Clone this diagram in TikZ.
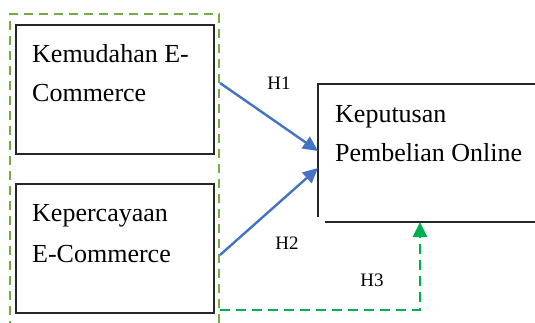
\documentclass[tikz,border=0pt]{standalone}
\usepackage{fontspec}
\setmainfont{Liberation Serif}
\usetikzlibrary{arrows.meta}
\definecolor{grpgreen}{HTML}{70AD47}
\definecolor{hgreen}{HTML}{00B050}
\definecolor{hblue}{HTML}{4472C4}
\tikzset{
  varbox/.style={draw=black!85, line width=1.6pt, minimum width=198pt, minimum height=129pt, anchor=north west, inner sep=0pt},
  boxtxt/.style={anchor=base west, inner sep=0pt, font=\fontsize{26}{39}\selectfont},
  hlabel/.style={inner sep=0pt, font=\fontsize{19}{22}\selectfont},
  hyparrow/.style={hblue, line width=2.4pt, -{Triangle[length=15pt, width=14pt]}},
  grouping/.style={grpgreen, line width=2.2pt, dash pattern=on 9pt off 6pt},
  indirect/.style={hgreen, line width=2.6pt, dash pattern=on 10pt off 6pt, -{Triangle[length=15pt, width=14pt]}}
}
\begin{document}
\begin{tikzpicture}[x=1pt, y=-1pt]
\useasboundingbox (0,0) rectangle (535,323);
% independent variables
\node[varbox] (kem) at (15,24) {};
\node[boxtxt] (kem1) at (32,63) {Kemudahan E-};
\node[boxtxt] (kem2) at (32,102) {Commerce};
\node[varbox] (kep) at (15,183) {};
\node[boxtxt] (kep1) at (32,222) {Kepercayaan};
\node[boxtxt] (kep2) at (32,262) {E-Commerce};
% grouping frame around both variables
\draw[grouping] (10,330) -- (10,14) -- (219,14) -- (219,330);
% dependent variable (box open on the right)
\node[inner sep=0pt, minimum width=230pt, minimum height=138pt, anchor=north west] (kpo) at (318,84) {};
\draw[black!85, line width=1.6pt] (545,84) -- (318,84) -- (318,217);
\draw[black!85, line width=1.6pt] (325,222) -- (545,222);
\node[boxtxt] (kpo1) at (335,123) {Keputusan};
\node[boxtxt] (kpo2) at (335,162) {Pembelian Online};
% hypotheses
\coordinate (h1s) at (220,83);
\coordinate (h1e) at (318,151);
\coordinate (h2s) at (220,255);
\coordinate (h2e) at (318,168);
\draw[hyparrow] (h1s) -- (h1e);
\draw[hyparrow] (h2s) -- (h2e);
\coordinate (h3s) at (220,310);
\coordinate (h3c) at (420,310);
\coordinate (h3e) at (420,222);
\draw[indirect] (h3s) -- (h3c) -- (h3e);
\node[hlabel] (H1) at (279,83) {H1};
\node[hlabel] (H2) at (287,243) {H2};
\node[hlabel] (H3) at (372,280) {H3};
\end{tikzpicture}
\end{document}
